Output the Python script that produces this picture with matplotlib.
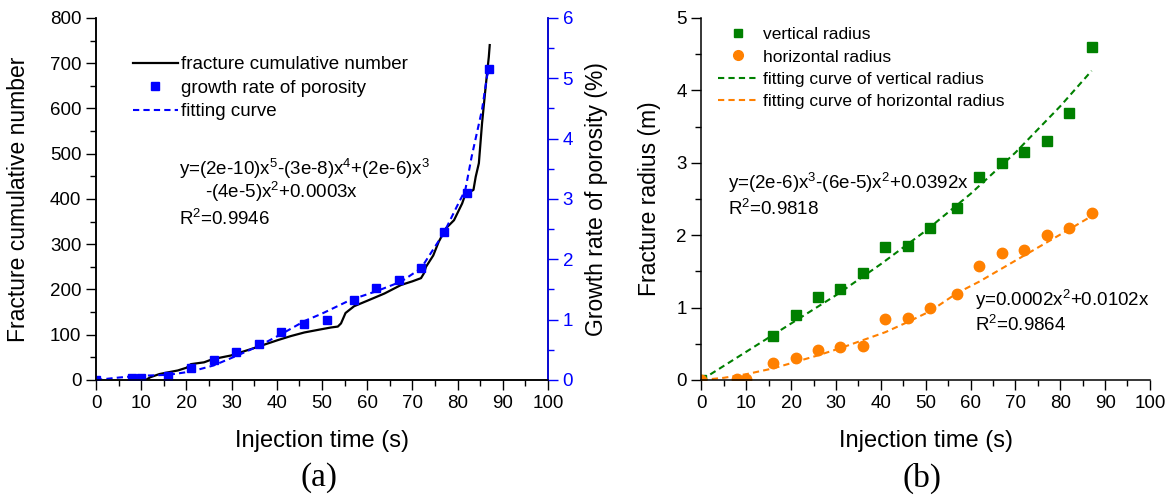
import numpy as np
import matplotlib
matplotlib.use('Agg')
import matplotlib.pyplot as plt
from matplotlib.ticker import MultipleLocator

plt.rcParams['font.family'] = ['Liberation Sans', 'DejaVu Sans']
plt.rcParams['mathtext.fontset'] = 'custom'
plt.rcParams['mathtext.rm'] = 'Liberation Sans'
plt.rcParams['mathtext.default'] = 'regular'

# (a) fracture cumulative number (black line)
frac_t = [11.0, 12, 14.0, 16, 18.1, 20, 21.0, 23.9, 25.8, 29.8, 34.2, 38.7, 40.2, 43.1, 46.1, 49.8,
          52, 53.5, 54.2, 55.2, 57.1, 60, 63.8, 67.5, 70, 71.9, 72.5, 73.0, 74.6, 75.8, 77.4, 79.2,
          81.0, 81.7, 83.5, 84.0, 84.7, 85.4, 86.2, 86.9, 87.1]
frac_n = [0, 6, 13, 17, 21, 27, 35, 39, 46, 54, 68, 83, 88, 97, 105, 112,
          116, 118, 125, 148, 163, 175, 191, 210, 218, 225, 235, 250, 275, 305, 335, 353,
          390, 410, 420, 449, 479, 567, 648, 714, 740]

# (a) growth rate of porosity (%)
por_t = [0, 8, 10, 16, 21, 26, 31, 36, 41, 46, 51, 57, 62, 67, 72, 77, 82, 87]
por_v = [0, 0.04, 0.04, 0.06, 0.2, 0.33, 0.47, 0.6, 0.8, 0.93, 1.0, 1.33, 1.53, 1.65, 1.85, 2.45, 3.1, 5.15]

# (a) fitting curve
fit_t = [0, 5, 10, 16, 21, 26, 31.4, 36.2, 41, 46.2, 50, 56.4, 62, 67.5, 71.9, 76.9, 80, 81.7, 83.1, 85.4, 86.5, 87]
fit_v = [0, 0.04, 0.07, 0.085, 0.14, 0.24, 0.41, 0.57, 0.76, 0.98, 1.1, 1.33, 1.47, 1.63, 1.85, 2.43, 2.9, 3.15, 3.7, 4.48, 5.03, 5.15]

# (b) fracture radius
vert_t = [0, 16, 21, 26, 31, 36, 41, 46, 51, 57, 62, 67, 72, 77, 82, 87]
vert_r = [0, 0.61, 0.90, 1.15, 1.26, 1.48, 1.83, 1.85, 2.10, 2.38, 2.80, 3.00, 3.15, 3.30, 3.69, 4.60]
hor_t = [0, 8, 10, 16, 21, 26, 31, 36, 41, 46, 51, 57, 62, 67, 72, 77, 82, 87]
hor_r = [0, 0.01, 0.02, 0.24, 0.30, 0.42, 0.46, 0.47, 0.84, 0.85, 1.00, 1.19, 1.58, 1.75, 1.80, 2.00, 2.10, 2.30]

vfit_t = [0, 10, 20, 30, 40, 50, 60, 70, 80, 87]
vfit_r = [0, 0.39, 0.78, 1.17, 1.60, 2.06, 2.57, 3.14, 3.78, 4.27]
hfit_t = [0, 5, 10, 16, 21, 26, 31, 36, 41, 46, 51, 57, 62, 67, 72, 77, 82, 88]
hfit_r = [0, 0.03, 0.08, 0.16, 0.25, 0.34, 0.44, 0.55, 0.66, 0.80, 0.95, 1.20, 1.36, 1.54, 1.72, 1.90, 2.08, 2.30]

blue = '#0000FF'
green = '#008000'
orange = '#FF8000'
tick_fs = 13.5
lab_fs = 16.5
txt_fs = 13.5
dash = (0, (3, 2))

fig = plt.figure(figsize=(11.71, 4.98), dpi=100)
ax1 = fig.add_axes([0.082, 0.237, 0.386, 0.727])
ax2 = ax1.twinx()
ax3 = fig.add_axes([0.599, 0.237, 0.383, 0.727])


def style(ax):
    ax.tick_params(which='major', direction='out', length=7, width=1, labelsize=tick_fs)
    ax.tick_params(which='minor', direction='out', length=4, width=1)
    for s in ax.spines.values():
        s.set_linewidth(1.1)


""" (a) """
ax1.plot(frac_t, frac_n, color='black', lw=1.6)
ax2.plot(fit_t, fit_v, color=blue, lw=1.5, ls=dash)
ax2.plot(por_t, por_v, ls='none', marker='s', ms=6, color=blue)
ax1.set_xlim(0, 100)
ax1.set_ylim(0, 800)
ax2.set_ylim(0, 6)
ax1.xaxis.set_major_locator(MultipleLocator(10))
ax1.xaxis.set_minor_locator(MultipleLocator(5))
ax1.yaxis.set_major_locator(MultipleLocator(100))
ax1.yaxis.set_minor_locator(MultipleLocator(50))
ax2.yaxis.set_major_locator(MultipleLocator(1))
ax2.yaxis.set_minor_locator(MultipleLocator(0.5))
style(ax1)
style(ax2)
ax1.spines['top'].set_visible(False)
ax2.spines['top'].set_visible(False)
ax2.spines['right'].set_color(blue)
ax2.tick_params(axis='y', which='both', colors=blue)
ax1.set_ylabel('Fracture cumulative number', fontsize=lab_fs)
ax2.set_ylabel('Growth rate of porosity (%)', fontsize=lab_fs)
ax1.yaxis.set_label_coords(-0.145, 0.5)
ax2.yaxis.set_label_coords(1.081, 0.5)

h = [plt.Line2D([], [], color='black', lw=1.6),
     plt.Line2D([], [], color=blue, ls='none', marker='s', ms=6),
     plt.Line2D([], [], color=blue, lw=1.5, ls=dash)]
ax1.legend(h, ['fracture cumulative number', 'growth rate of porosity', 'fitting curve'],
           loc='upper left', bbox_to_anchor=(0.081, 0.895), frameon=False, fontsize=txt_fs,
           handlelength=2.4, handletextpad=0.2, labelspacing=0.35, borderaxespad=0, borderpad=0)

ax1.text(0.183, 0.584, 'y=(2e-10)x$^5$-(3e-8)x$^4$+(2e-6)x$^3$', transform=ax1.transAxes,
         fontsize=txt_fs, va='center')
ax1.text(0.242, 0.519, '-(4e-5)x$^2$+0.0003x', transform=ax1.transAxes, fontsize=txt_fs, va='center')
ax1.text(0.183, 0.446, 'R$^2$=0.9946', transform=ax1.transAxes, fontsize=txt_fs, va='center')

""" (b) """
ax3.plot(vfit_t, vfit_r, color=green, lw=1.5, ls=dash)
ax3.plot(hfit_t, hfit_r, color=orange, lw=1.5, ls=dash)
ax3.plot(vert_t, vert_r, ls='none', marker='s', ms=6.5, color=green)
ax3.plot(hor_t, hor_r, ls='none', marker='o', ms=7.5, color=orange)
ax3.set_xlim(0, 100)
ax3.set_ylim(0, 5)
ax3.xaxis.set_major_locator(MultipleLocator(10))
ax3.xaxis.set_minor_locator(MultipleLocator(5))
ax3.yaxis.set_major_locator(MultipleLocator(1))
ax3.yaxis.set_minor_locator(MultipleLocator(0.5))
style(ax3)
ax3.spines['top'].set_visible(False)
ax3.spines['right'].set_visible(False)
ax3.set_ylabel('Fracture radius (m)', fontsize=lab_fs)
ax3.yaxis.set_label_coords(-0.09, 0.5)

h = [plt.Line2D([], [], color=green, ls='none', marker='s', ms=6),
     plt.Line2D([], [], color=orange, ls='none', marker='o', ms=7),
     plt.Line2D([], [], color=green, lw=1.5, ls=dash),
     plt.Line2D([], [], color=orange, lw=1.5, ls=dash)]
ax3.legend(h, ['vertical radius', 'horizontal radius', 'fitting curve of vertical radius',
               'fitting curve of horizontal radius'],
           loc='upper left', bbox_to_anchor=(0.038, 0.975), frameon=False, fontsize=12.5,
           handlelength=2.25, handletextpad=0.3, labelspacing=0.42, borderaxespad=0, borderpad=0)

ax3.text(0.06, 0.544, 'y=(2e-6)x$^3$-(6e-5)x$^2$+0.0392x', transform=ax3.transAxes,
         fontsize=txt_fs, va='center')
ax3.text(0.06, 0.473, 'R$^2$=0.9818', transform=ax3.transAxes, fontsize=txt_fs, va='center')
ax3.text(0.609, 0.222, 'y=0.0002x$^2$+0.0102x', transform=ax3.transAxes, fontsize=txt_fs, va='center')
ax3.text(0.609, 0.152, 'R$^2$=0.9864', transform=ax3.transAxes, fontsize=txt_fs, va='center')

for ax in (ax1, ax3):
    ax.set_xlabel('Injection time (s)', fontsize=17, labelpad=13)

fig.text(0.272, 0.04, '(a)', fontsize=24, family='Liberation Serif', ha='center', va='center')
fig.text(0.787, 0.04, '(b)', fontsize=24, family='Liberation Serif', ha='center', va='center')

fig.savefig('out.png', dpi=100)
